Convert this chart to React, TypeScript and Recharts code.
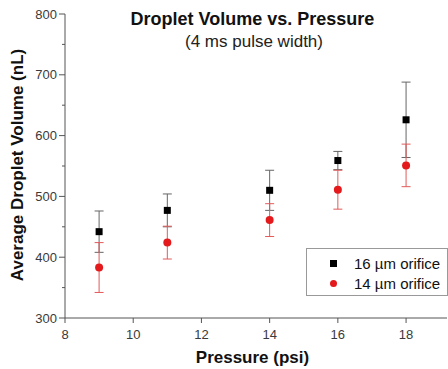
import { ScatterChart, Scatter, XAxis, YAxis, ErrorBar } from 'recharts';

const pressures = [9, 11, 14, 16, 18];
const vol16 = [442, 477, 510, 559, 626];
const err16 = [34, 27, 33, 15, 62];
const vol14 = [383, 424, 461, 511, 551];
const err14 = [41, 27, 27, 32, 35];

const xTicks = [8, 10, 12, 14, 16, 18];
const yTicks = [300, 350, 400, 450, 500, 550, 600, 650, 700, 750, 800];

const seriesNames = ['16 \u00b5m orifice', '14 \u00b5m orifice'];

const FONT = '"Liberation Sans", Arial, sans-serif';
const AXIS = '#555';
const RED = '#e3191c';

const data16 = pressures.map((x, i) => ({ x, y: vol16[i], err: err16[i] }));
const data14 = pressures.map((x, i) => ({ x, y: vol14[i], err: err14[i] }));

function YTick(props: any) {
  const { x, y, payload } = props;
  const major = payload.value % 100 === 0;
  return (
    <g>
      <line x1={x - (major ? 6 : 3)} x2={x} y1={y} y2={y} stroke={AXIS} />
      {major && (
        <text x={x - 8} y={y} dy={4.5} textAnchor="end" fontSize={13} fill="#3a3a3a" fontFamily={FONT}>
          {payload.value}
        </text>
      )}
    </g>
  );
}

function XTick(props: any) {
  const { x, y, payload } = props;
  return (
    <g>
      <line x1={x} x2={x} y1={y} y2={y + 5} stroke={AXIS} />
      <text x={x} y={y + 21} textAnchor="middle" fontSize={13} fill="#3a3a3a" fontFamily={FONT}>
        {payload.value}
      </text>
    </g>
  );
}

const square = (p: any) => <rect x={p.cx - 3.5} y={p.cy - 3.5} width={7} height={7} fill="#000" />;
const dot = (p: any) => <circle cx={p.cx} cy={p.cy} r={4} fill={RED} />;

export default function App() {
  return (
    <div style={{ position: 'absolute', left: 0, top: 0, width: 448, height: 369, fontFamily: FONT, background: '#fff' }}>
      <ScatterChart width={448} height={369} margin={{ top: 14, right: 1, bottom: 0, left: 0 }}>
        <XAxis
          type="number"
          dataKey="x"
          domain={[8, 19.2]}
          ticks={xTicks}
          height={51}
          stroke={AXIS}
          tickLine={false}
          tickSize={0}
          tickMargin={0}
          tick={<XTick />}
        />
        <YAxis
          type="number"
          dataKey="y"
          domain={[300, 800]}
          ticks={yTicks}
          width={65}
          stroke={AXIS}
          tickLine={false}
          tickSize={0}
          tickMargin={0}
          tick={<YTick />}
          interval={0}
        />
        <Scatter data={data16} shape={square} isAnimationActive={false}>
          <ErrorBar dataKey="err" direction="y" width={4.5} stroke="#666" strokeWidth={1} />
        </Scatter>
        <Scatter data={data14} shape={dot} isAnimationActive={false}>
          <ErrorBar dataKey="err" direction="y" width={4.5} stroke="#e25a5a" strokeWidth={1} />
        </Scatter>
      </ScatterChart>

      <div style={{ position: 'absolute', left: 0, width: 505, top: 9, textAlign: 'center', fontWeight: 'bold', fontSize: 18, color: '#111', whiteSpace: 'nowrap' }}>
        Droplet Volume vs. Pressure
      </div>
      <div style={{ position: 'absolute', left: 0, width: 508, top: 32, textAlign: 'center', fontSize: 17, color: '#222', whiteSpace: 'nowrap' }}>
        (4 ms pulse width)
      </div>
      <div style={{ position: 'absolute', left: 0, width: 505, top: 348, textAlign: 'center', fontWeight: 'bold', fontSize: 17, color: '#111', whiteSpace: 'nowrap' }}>
        Pressure (psi)
      </div>
      <div
        style={{
          position: 'absolute',
          left: 18,
          top: 165,
          transform: 'translate(-50%, -50%) rotate(-90deg)',
          fontWeight: 'bold',
          fontSize: 17,
          color: '#111',
          whiteSpace: 'nowrap',
        }}
      >
        Average Droplet Volume (nL)
      </div>

      <div
        style={{
          position: 'absolute',
          left: 306,
          top: 248,
          width: 140,
          height: 46,
          border: '1px solid #999',
          background: '#fff',
          fontSize: 15,
          color: '#111',
        }}
      >
        {seriesNames.map((name, i) => (
          <div key={name} style={{ position: 'absolute', left: 0, top: 5 + i * 20, height: 20, width: 140, whiteSpace: 'nowrap' }}>
            <span
              style={{
                position: 'absolute',
                left: 23,
                top: 6,
                width: 7,
                height: 7,
                background: i === 0 ? '#000' : RED,
                borderRadius: i === 0 ? 0 : '50%',
              }}
            />
            <span style={{ position: 'absolute', left: 47, top: 1 }}>{name}</span>
          </div>
        ))}
      </div>
    </div>
  );
}
